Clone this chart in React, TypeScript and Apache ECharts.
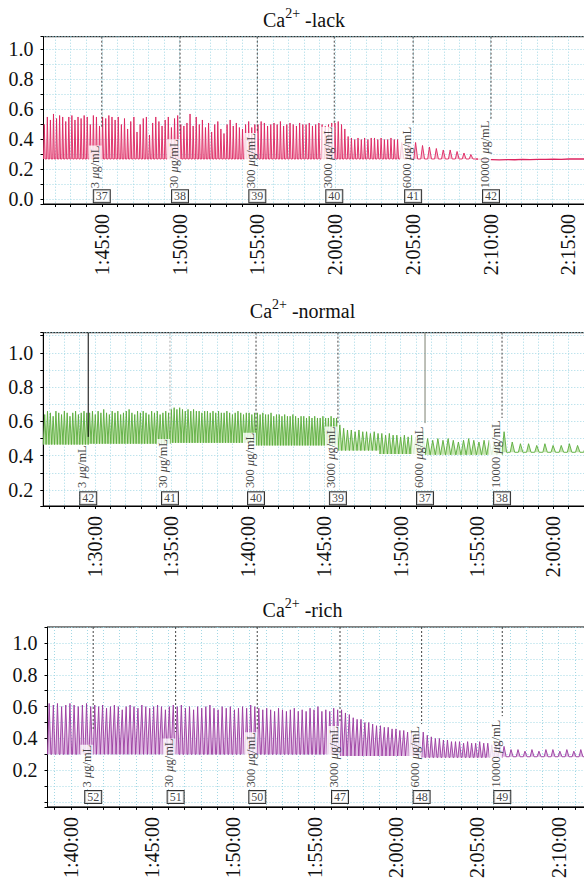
import React, { useEffect, useRef } from 'react';
import * as echarts from 'echarts';

const FONT = 'Liberation Serif, Times New Roman, serif';

// Time is in minutes after 0:00:00, signal in relative units.
const concentrations = ['3', '30', '300', '3000', '6000', '10000'];

// ---- Ca2+-lack ----
const lackRunBounds = [101.25, 105.0, 110.03, 114.99, 119.94, 124.18, 129.07];
const lackRunTroughs = [0.27, 0.27, 0.27, 0.27, 0.27, 0.27];
const lackRunShapes = ['spike', 'spike', 'spike', 'spike', 'spike', 'spike'];
const lackPeaks = [
  [0.5, 0.55, 0.53, 0.57, 0.54, 0.56, 0.55, 0.52, 0.55, 0.56, 0.53, 0.55, 0.54, 0.56, 0.55, 0.5, 0.56, 0.55, 0.49],
  [0.55, 0.54, 0.56, 0.55, 0.53, 0.55, 0.5, 0.54, 0.47, 0.52, 0.55, 0.45, 0.5, 0.54, 0.55, 0.43, 0.51, 0.55, 0.52, 0.49, 0.53, 0.55, 0.48, 0.54, 0.56],
  [0.5, 0.49, 0.51, 0.57, 0.49, 0.55, 0.5, 0.53, 0.48, 0.51, 0.45, 0.5, 0.52, 0.47, 0.44, 0.5, 0.53, 0.49, 0.51, 0.48, 0.47, 0.5, 0.52, 0.48, 0.5],
  [0.5, 0.52, 0.51, 0.49, 0.5, 0.51, 0.5, 0.52, 0.49, 0.5, 0.51, 0.5, 0.49, 0.51, 0.5, 0.5, 0.51, 0.49, 0.5, 0.51, 0.5, 0.49, 0.5, 0.51],
  [0.51, 0.52, 0.5, 0.47, 0.42, 0.41, 0.4, 0.41, 0.4, 0.41, 0.4, 0.41, 0.41, 0.4, 0.41, 0.4, 0.4, 0.41, 0.4, 0.4],
  [0.38, 0.37, 0.38, 0.36, 0.35, 0.34, 0.33, 0.33, 0.32, 0.31, 0.3],
];
const lackFlatEnd = 137.04;
const lackFlat = [0.27, 0.268, 0.266, 0.264, 0.266, 0.265, 0.267, 0.266, 0.268, 0.267, 0.269, 0.268, 0.27, 0.271, 0.27, 0.271, 0.27];
const lackMarkTimes = [105.0, 110.03, 115.0, 119.95, 125.02, 130.03];
const lackMarkEnds = [0.475, 0.44, 0.45, 0.5, 0.5, 0.53];
const lackTubes = [37, 38, 39, 40, 41, 42];

// ---- Ca2+-normal ----
const normalRunBounds = [86.62, 89.56, 94.91, 100.54, 105.9, 108.65, 111.6, 116.64, 123.05];
const normalRunTroughs = [0.465, 0.47, 0.475, 0.46, 0.43, 0.41, 0.405, 0.42];
const normalRunShapes = ['zig', 'zig', 'zig', 'zig', 'zig', 'zig', 'zig', 'spike'];
const normalPeaks = [
  [0.64, 0.66, 0.65, 0.63, 0.66, 0.65, 0.64, 0.66, 0.65, 0.63, 0.65, 0.66, 0.64, 0.65, 0.66, 0.65],
  [0.65, 0.66, 0.64, 0.66, 0.65, 0.67, 0.65, 0.64, 0.66, 0.65, 0.66, 0.64, 0.65, 0.66, 0.67, 0.65, 0.64, 0.66, 0.65, 0.66, 0.65, 0.64, 0.66, 0.65, 0.66, 0.64, 0.65, 0.66, 0.65],
  [0.67, 0.68, 0.67, 0.68, 0.67, 0.66, 0.67, 0.66, 0.67, 0.66, 0.66, 0.65, 0.66, 0.66, 0.65, 0.66, 0.65, 0.66, 0.65, 0.65, 0.66, 0.65, 0.64, 0.65, 0.66, 0.65, 0.64, 0.65, 0.65, 0.64, 0.65],
  [0.65, 0.64, 0.65, 0.64, 0.64, 0.65, 0.63, 0.64, 0.64, 0.63, 0.64, 0.63, 0.63, 0.64, 0.63, 0.62, 0.63, 0.63, 0.62, 0.63, 0.62, 0.63, 0.62, 0.62, 0.63, 0.62, 0.62, 0.63, 0.62, 0.62],
  [0.58, 0.56, 0.55, 0.55, 0.54, 0.55, 0.54, 0.54, 0.53, 0.54, 0.53],
  [0.53, 0.52, 0.53, 0.52, 0.52, 0.51, 0.52, 0.51, 0.52, 0.51, 0.52, 0.54],
  [0.5, 0.49, 0.5, 0.49, 0.5, 0.49, 0.48, 0.49, 0.5, 0.49, 0.48, 0.49, 0.49, 0.48, 0.49],
  [0.54, 0.48, 0.47, 0.47, 0.46, 0.47, 0.46, 0.46, 0.47, 0.46, 0.46, 0.46],
];
const normalMarkTimes = [89.56, 94.91, 100.54, 105.9, 111.6, 116.64];
const normalMarkEnds = [0.51, 0.53, 0.55, 0.59, 0.59, 0.62];
const normalTubes = [42, 41, 40, 39, 37, 38];

// ---- Ca2+-rich ----
const richRunBounds = [98.57, 101.38, 106.45, 111.47, 116.56, 121.58, 126.54, 132.55];
const richRunTroughs = [0.3, 0.3, 0.3, 0.3, 0.29, 0.28, 0.285];
const richRunShapes = ['saw', 'saw', 'saw', 'saw', 'saw', 'saw', 'spike'];
const richPeaks = [
  [0.62, 0.61, 0.62, 0.6, 0.61, 0.62, 0.61, 0.6, 0.61, 0.62, 0.6],
  [0.61, 0.6, 0.61, 0.59, 0.6, 0.61, 0.6, 0.58, 0.6, 0.61, 0.6, 0.59, 0.61, 0.6, 0.59, 0.6, 0.61, 0.6, 0.58, 0.6, 0.61],
  [0.6, 0.61, 0.59, 0.6, 0.58, 0.6, 0.59, 0.6, 0.61, 0.59, 0.58, 0.6, 0.59, 0.6, 0.58, 0.59, 0.6, 0.59, 0.61, 0.6],
  [0.59, 0.58, 0.59, 0.58, 0.57, 0.59, 0.58, 0.57, 0.58, 0.59, 0.57, 0.58, 0.57, 0.59, 0.58, 0.6, 0.57, 0.58, 0.57, 0.59, 0.58],
  [0.58, 0.56, 0.55, 0.53, 0.52, 0.52, 0.5, 0.5, 0.49, 0.48, 0.48, 0.47, 0.47, 0.46, 0.46, 0.45, 0.45, 0.44, 0.44, 0.43, 0.44],
  [0.44, 0.42, 0.41, 0.4, 0.4, 0.39, 0.39, 0.38, 0.38, 0.38, 0.37, 0.38, 0.37, 0.37, 0.38, 0.37, 0.37, 0.36, 0.37, 0.38],
  [0.35, 0.33, 0.33, 0.32, 0.33, 0.32, 0.33, 0.33, 0.32, 0.33, 0.32, 0.33, 0.32, 0.33],
];
const richMarkTimes = [101.38, 106.45, 111.47, 116.56, 121.58, 126.54];
const richMarkEnds = [0.45, 0.44, 0.455, 0.5, 0.49, 0.54];
const richTubes = [52, 51, 50, 47, 48, 49];

type Panel = {
  name: string;
  grid: { left: number; top: number; height: number };
  xRange: [number, number];
  yRange: [number, number];
  minLabel: number;
  labelBase: number;
  boxLevel: number;
  title: { x: number; top: number };
  stroke: string;
  fill: string;
  bounds: number[];
  troughs: number[];
  shapes: string[];
  peaks: number[][];
  markTimes: number[];
  markEnds: number[];
  markStyles: [string, string][];
  tubes: number[];
};

const DOT: [string, string] = ['dotted', '#444'];

const panels: Panel[] = [
  {
    name: 'lack',
    grid: { left: 43.5, top: 36.7, height: 167.3 },
    xRange: [101.25, 137.04],
    yRange: [-0.03, 1.085],
    minLabel: 0,
    labelBase: 0.075,
    boxLevel: 0.022,
    title: { x: 304, top: 6 },
    stroke: '#dc2560',
    fill: '#f7c0d0',
    bounds: lackRunBounds,
    troughs: lackRunTroughs,
    shapes: lackRunShapes,
    peaks: lackPeaks,
    markTimes: lackMarkTimes,
    markEnds: lackMarkEnds,
    markStyles: [DOT, DOT, DOT, DOT, DOT, DOT],
    tubes: lackTubes,
  },
  {
    name: 'normal',
    grid: { left: 43.3, top: 332.7, height: 173.3 },
    xRange: [86.62, 123.05],
    yRange: [0.107, 1.117],
    minLabel: 0.2,
    labelBase: 0.212,
    boxLevel: 0.152,
    title: { x: 302.5, top: 297.4 },
    stroke: '#5aad3b',
    fill: '#c6e4b2',
    bounds: normalRunBounds,
    troughs: normalRunTroughs,
    shapes: normalRunShapes,
    peaks: normalPeaks,
    markTimes: normalMarkTimes,
    markEnds: normalMarkEnds,
    markStyles: [['solid', '#000'], ['dotted', '#aaa'], DOT, DOT, ['solid', '#7d8070'], DOT],
    tubes: normalTubes,
  },
  {
    name: 'rich',
    grid: { left: 47.5, top: 627, height: 181.7 },
    xRange: [98.57, 132.55],
    yRange: [-0.03, 1.1],
    minLabel: 0.2,
    labelBase: 0.092,
    boxLevel: 0.032,
    title: { x: 302.5, top: 596 },
    stroke: '#9a3a9f',
    fill: '#dfbbe2',
    bounds: richRunBounds,
    troughs: richRunTroughs,
    shapes: richRunShapes,
    peaks: richPeaks,
    markTimes: richMarkTimes,
    markEnds: richMarkEnds,
    markStyles: [DOT, DOT, DOT, DOT, DOT, DOT],
    tubes: richTubes,
  },
];

// One run of evenly spaced beats between t0 and t1, each rising from the trough to its peak.
function beatLine(t0: number, t1: number, trough: number, peaks: number[], shape: string) {
  const n = peaks.length;
  const p = (t1 - t0) / n;
  const pts: number[][] = [];
  peaks.forEach((pk, i) => {
    const s = t0 + i * p;
    pts.push([s, trough]);
    if (shape === 'zig') {
      pts.push([s + 0.5 * p, pk]);
    } else if (shape === 'spike') {
      pts.push([s + 0.25 * p, pk]);
      pts.push([s + 0.55 * p, trough]);
    } else {
      pts.push([s + 0.4 * p, pk]);
      pts.push([s + 0.82 * p, trough]);
    }
  });
  pts.push([t1, trough]);
  return pts;
}

function clockLabel(v: number) {
  const m = Math.round(v);
  if (Math.abs(v - m) > 1e-6 || m % 5 !== 0) return '';
  return `${Math.floor(m / 60)}:${String(m % 60).padStart(2, '0')}:00`;
}

function buildOption() {
  const grid: any[] = [];
  const xAxis: any[] = [];
  const yAxis: any[] = [];
  const series: any[] = [];
  const title: any[] = [];
  const gridLine = { color: '#a3d8e5', type: [1, 2], width: 1 };

  panels.forEach((pn, k) => {
    grid.push({
      left: pn.grid.left,
      top: pn.grid.top,
      height: pn.grid.height,
      right: 0,
      show: true,
      borderColor: '#000',
      borderWidth: 1,
      backgroundColor: '#fff',
    });
    title.push({
      text: `Ca{sup|2+} -${pn.name}`,
      left: pn.title.x,
      top: pn.title.top,
      textAlign: 'center',
      padding: 0,
      textStyle: {
        fontFamily: FONT,
        fontSize: 20,
        fontWeight: 'normal',
        color: '#111',
        lineHeight: 28,
        verticalAlign: 'bottom',
        rich: {
          sup: { fontFamily: FONT, fontSize: 14, lineHeight: 14, verticalAlign: 'top', color: '#111' },
        },
      },
    });
    xAxis.push({
      gridIndex: k,
      type: 'value',
      min: pn.xRange[0],
      max: pn.xRange[1],
      minInterval: 1,
      maxInterval: 1,
      axisLine: { show: true, onZero: false, lineStyle: { color: '#000', width: 1 } },
      axisTick: { show: true, length: 3, lineStyle: { color: '#000' } },
      axisLabel: {
        rotate: 90,
        margin: 10,
        formatter: clockLabel,
        fontFamily: FONT,
        fontSize: 20,
        color: '#111',
        showMinLabel: false,
        showMaxLabel: false,
      },
      splitLine: { show: true, lineStyle: gridLine },
    });
    yAxis.push({
      gridIndex: k,
      type: 'value',
      min: pn.yRange[0],
      max: pn.yRange[1],
      minInterval: 0.1,
      maxInterval: 0.1,
      axisLine: { show: true, onZero: false, lineStyle: { color: '#000', width: 1 } },
      axisTick: { show: true, length: 3, lineStyle: { color: '#000' } },
      axisLabel: {
        margin: 10,
        fontFamily: FONT,
        fontSize: 20,
        color: '#111',
        formatter: (v: number) => {
          const t = Math.round(v * 10);
          if (Math.abs(v * 10 - t) > 1e-6 || t % 2 !== 0 || v < pn.minLabel - 1e-6) return '';
          return (t / 10).toFixed(1);
        },
      },
      splitLine: { show: true, lineStyle: gridLine },
    });

    // recorded trace, one series per run so each fills down to its own trough
    let prev: number[] | null = null;
    pn.peaks.forEach((pk, r) => {
      const pts = beatLine(pn.bounds[r], pn.bounds[r + 1], pn.troughs[r], pk, pn.shapes[r]);
      const data = prev ? [prev, ...pts] : pts;
      prev = pts[pts.length - 1];
      series.push({
        type: 'line',
        xAxisIndex: k,
        yAxisIndex: k,
        data,
        symbol: 'none',
        silent: true,
        z: 2,
        lineStyle: { color: pn.stroke, width: 0.9 },
        areaStyle: { color: pn.fill, opacity: 1, origin: pn.troughs[r] },
      });
    });
    if (pn.name === 'lack') {
      const t0 = pn.bounds[pn.bounds.length - 1];
      const step = (lackFlatEnd - t0) / (lackFlat.length - 1);
      const flat = lackFlat.map((v, i) => [t0 + i * step, v]);
      series.push({
        type: 'line',
        xAxisIndex: k,
        yAxisIndex: k,
        data: prev ? [prev, ...flat] : flat,
        symbol: 'none',
        silent: true,
        z: 2,
        lineStyle: { color: pn.stroke, width: 1.3 },
      });
    }

    // dosing markers
    pn.markTimes.forEach((t, i) => {
      series.push({
        type: 'line',
        xAxisIndex: k,
        yAxisIndex: k,
        data: [
          [t, pn.yRange[1]],
          [t, pn.markEnds[i]],
        ],
        symbol: 'none',
        silent: true,
        z: 3,
        lineStyle: { color: pn.markStyles[i][1], width: 1, type: pn.markStyles[i][0] === 'dotted' ? [2, 2] : 'solid' },
      });
    });

    // concentration labels
    series.push({
      type: 'scatter',
      xAxisIndex: k,
      yAxisIndex: k,
      symbolSize: 1,
      itemStyle: { color: 'rgba(0,0,0,0)' },
      silent: true,
      z: 5,
      data: pn.markTimes.map((t, i) => ({
        value: [t, pn.labelBase],
        label: { formatter: `{n|${concentrations[i]} }{i|\u03bc}{n|g/mL}` },
      })),
      label: {
        show: true,
        position: 'inside',
        rotate: 90,
        align: 'left',
        verticalAlign: 'bottom',
        offset: [-1, 0],
        backgroundColor: '#fff',
        padding: [0, 0, 0, 1],
        color: '#111',
        rich: {
          n: { fontFamily: FONT, fontSize: 12.5, color: '#111' },
          i: { fontFamily: FONT, fontSize: 12.5, fontStyle: 'italic', color: '#111' },
        },
      },
    });

    // tube number boxes
    series.push({
      type: 'scatter',
      xAxisIndex: k,
      yAxisIndex: k,
      symbolSize: 1,
      itemStyle: { color: 'rgba(0,0,0,0)' },
      silent: true,
      z: 6,
      data: pn.markTimes.map((t, i) => ({
        value: [t, pn.boxLevel],
        label: { formatter: String(pn.tubes[i]) },
      })),
      label: {
        show: true,
        position: 'inside',
        fontFamily: FONT,
        fontSize: 12,
        lineHeight: 11,
        color: '#111',
        backgroundColor: '#fff',
        borderColor: '#000',
        borderWidth: 1,
        padding: [1, 2, 0, 2],
      },
    });
  });

  return { animation: false, backgroundColor: '#fff', textStyle: { fontFamily: FONT }, title, grid, xAxis, yAxis, series };
}

export default function App() {
  const ref = useRef<HTMLDivElement>(null);
  useEffect(() => {
    if (!ref.current) return;
    const chart = echarts.init(ref.current, null, { renderer: 'svg' });
    chart.setOption(buildOption() as any);
    return () => chart.dispose();
  }, []);
  return (
    <div style={{ position: 'fixed', left: 0, top: 0, width: 584, height: 881, overflow: 'hidden', background: '#fff' }}>
      <div ref={ref} style={{ width: 600, height: 881 }} />
    </div>
  );
}
